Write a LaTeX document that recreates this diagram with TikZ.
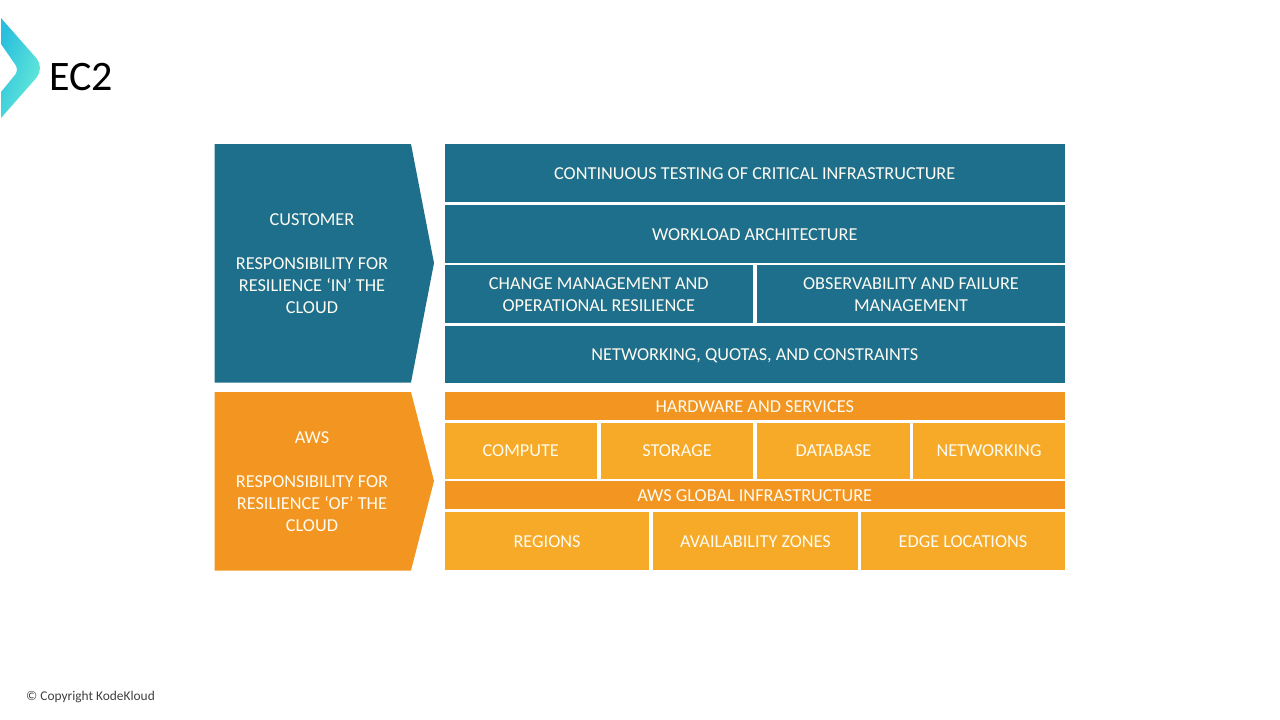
\documentclass[tikz,border=0pt]{standalone}
\usepackage{fontspec}
\setmainfont{Carlito}
\definecolor{tealbox}{HTML}{1E6F8C}
\definecolor{darkorange}{HTML}{F39621}
\definecolor{lightorange}{HTML}{F6AA27}
\definecolor{logoblue}{HTML}{2BBFDD}
\definecolor{logomint}{HTML}{6CF0D8}
\definecolor{boxtext}{HTML}{FDFBF2}
\newcommand{\lowered}[1]{\raisebox{-1pt}[\height][\depth]{#1}}
\tikzset{
  box/.style={inner sep=0pt,align=center,text=boxtext,font=\fontsize{18.25}{22}\selectfont},
  teal/.style={box,fill=tealbox,minimum width=#1,minimum height=58pt},
  band/.style={box,fill=darkorange,minimum width=620.5pt,minimum height=28pt},
  cell/.style={box,fill=lightorange,minimum width=#1,minimum height=56pt},
}
\begin{document}
\begin{tikzpicture}[x=1pt,y=-1pt]
\useasboundingbox (0,0) rectangle (1280,720);
\shade[left color=logoblue,right color=logomint,shading angle=70]
  (1,18) [rounded corners=13pt] -- (45,68) [sharp corners] -- (1,118) -- (1,92)
  [rounded corners=6pt] -- (19,70) [sharp corners] -- (1,44) -- cycle;
\node[anchor=west,inner sep=0pt,font=\fontsize{42}{48}\selectfont] (title) at (49,77) {EC2};

\fill[tealbox] (214.5,144) -- (411,144) -- (434,263) -- (411,382.5) -- (214.5,382.5) -- cycle;
\node[box] (customer) at (312,263.8) {CUSTOMER\\[22pt]RESPONSIBILITY FOR\\RESILIENCE ‘IN’ THE\\CLOUD};
\fill[darkorange] (214.5,392) -- (411,392) -- (434,481) -- (411,570.5) -- (214.5,570.5) -- cycle;
\node[box] (aws) at (312,481.8) {AWS\\[22pt]RESPONSIBILITY FOR\\RESILIENCE ‘OF’ THE\\CLOUD};

\node[teal=620.5pt] (testing) at (754.75,173) {\lowered{CONTINUOUS TESTING OF CRITICAL INFRASTRUCTURE}};
\node[teal=620.5pt] (workload) at (754.75,234) {\lowered{WORKLOAD ARCHITECTURE}};
\node[teal=308.5pt] (change) at (598.75,294) {\lowered{CHANGE MANAGEMENT AND}\\\lowered{OPERATIONAL RESILIENCE}};
\node[teal=308pt] (observe) at (911,294) {\lowered{OBSERVABILITY AND FAILURE}\\\lowered{MANAGEMENT}};
\node[teal=620.5pt,minimum height=57pt] (quotas) at (754.75,354.5) {\lowered{NETWORKING, QUOTAS, AND CONSTRAINTS}};

\node[band] (hardware) at (754.75,406) {\lowered{HARDWARE AND SERVICES}};
\node[cell=152.5pt] (compute) at (520.75,450.5) {COMPUTE};
\node[cell=152pt] (storage) at (677,450.5) {STORAGE};
\node[cell=153pt] (database) at (833.5,450.5) {DATABASE};
\node[cell=152pt] (networking) at (989,450.5) {NETWORKING};

\node[band] (global) at (754.75,495) {\lowered{AWS GLOBAL INFRASTRUCTURE}};
\node[cell=204.5pt,minimum height=58pt] (regions) at (547,541) {\lowered{REGIONS}};
\node[cell=205pt,minimum height=58pt] (zones) at (755.5,541) {\lowered{AVAILABILITY ZONES}};
\node[cell=204pt,minimum height=58pt] (edge) at (963,541) {\lowered{EDGE LOCATIONS}};

\node[anchor=west,inner sep=0pt,text=black!75,font=\fontsize{13.4}{16}\selectfont] (copyright) at (26,697) {© Copyright KodeKloud};
\end{tikzpicture}
\end{document}
